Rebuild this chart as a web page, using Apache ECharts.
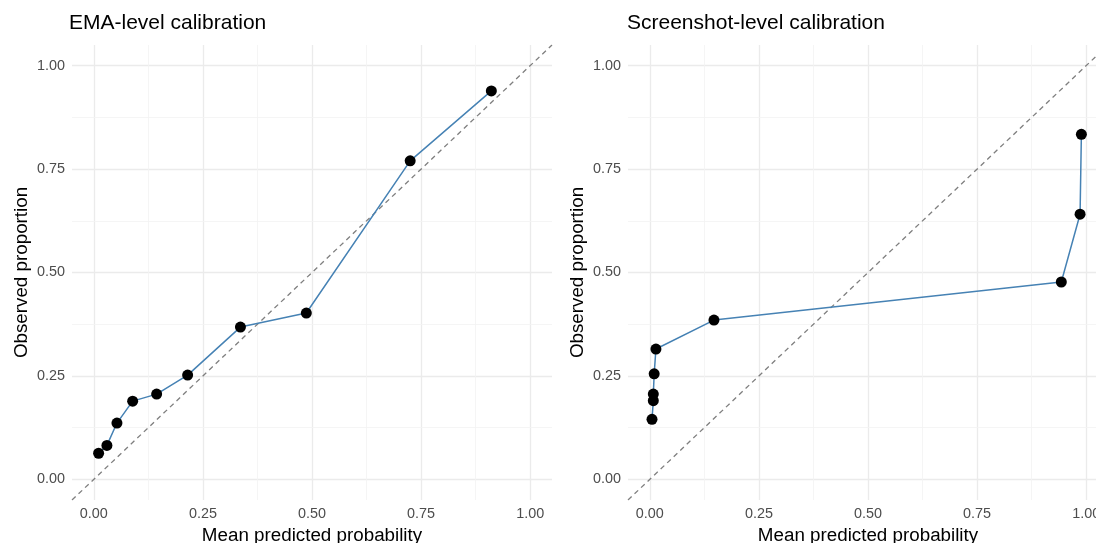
<!DOCTYPE html>
<html>
<head>
<meta charset="utf-8">
<script src="https://cdn.jsdelivr.net/npm/echarts@6/dist/echarts.min.js"></script>
<style>
html,body{margin:0;padding:0;background:#fff;}
#chart{width:1096px;height:543px;}
</style>
</head>
<body>
<div id="chart"></div>
<script>
// Data
const panelTitles = ['EMA-level calibration', 'Screenshot-level calibration'];
const xAxisTitle = 'Mean predicted probability';
const yAxisTitle = 'Observed proportion';
const tickValues = [0, 0.25, 0.5, 0.75, 1];
const minorValues = [0.125, 0.375, 0.625, 0.875];
const emaX = [0.011, 0.030, 0.053, 0.089, 0.144, 0.215, 0.336, 0.487, 0.725, 0.911];
const emaY = [0.063, 0.082, 0.136, 0.189, 0.206, 0.252, 0.368, 0.402, 0.770, 0.939];
const shotX = [0.005, 0.008, 0.008, 0.010, 0.014, 0.147, 0.943, 0.986, 0.989];
const shotY = [0.145, 0.190, 0.206, 0.255, 0.315, 0.385, 0.477, 0.641, 0.834];

const LO = -0.05, HI = 1.05;
const FONT = '"Liberation Sans", Arial, sans-serif';

function gridLines() {
  const d = [];
  const maj = {color: '#EBEBEB', width: 1.3, type: 'solid'};
  const min = {color: '#F3F3F3', width: 0.8, type: 'solid'};
  tickValues.forEach(v => {
    d.push([{coord: [LO, v], lineStyle: maj}, {coord: [HI, v]}]);
    d.push([{coord: [v, LO], lineStyle: maj}, {coord: [v, HI]}]);
  });
  minorValues.forEach(v => {
    d.push([{coord: [LO, v], lineStyle: min}, {coord: [HI, v]}]);
    d.push([{coord: [v, LO], lineStyle: min}, {coord: [v, HI]}]);
  });
  return d;
}

function zip(xs, ys) { return xs.map((x, i) => [x, ys[i]]); }

const grids = [
  {left: 72, top: 45, width: 480, height: 455, outerBoundsMode: 'none', containLabel: false},
  {left: 628, top: 45, width: 480, height: 455, outerBoundsMode: 'none', containLabel: false}
];

const xAxes = [0, 1].map(i => ({
  type: 'value', gridIndex: i, min: LO, max: HI,
  axisLine: {show: false}, axisTick: {show: false}, splitLine: {show: false},
  axisLabel: {customValues: tickValues, formatter: v => v.toFixed(2), color: '#4D4D4D',
              fontSize: 14.4, fontFamily: FONT, margin: 7},
  name: xAxisTitle, nameLocation: 'middle', nameGap: 25,
  nameTextStyle: {color: '#000', fontSize: 18.8, fontFamily: FONT}
}));
const yAxes = [0, 1].map(i => ({
  type: 'value', gridIndex: i, min: LO, max: HI,
  axisLine: {show: false}, axisTick: {show: false}, splitLine: {show: false},
  axisLabel: {customValues: tickValues, formatter: v => v.toFixed(2), color: '#4D4D4D',
              fontSize: 14.4, fontFamily: FONT, margin: 7},
  name: yAxisTitle, nameLocation: 'middle', nameGap: 41,
  nameTextStyle: {color: '#000', fontSize: 18.8, fontFamily: FONT}
}));

const series = [];
[[emaX, emaY], [shotX, shotY]].forEach(([xs, ys], i) => {
  series.push({
    type: 'line', xAxisIndex: i, yAxisIndex: i, data: [[LO, LO]], showSymbol: false,
    lineStyle: {width: 0}, silent: true, z: 0,
    markLine: {silent: true, z: 0, symbol: ['none', 'none'], label: {show: false}, animation: false, data: gridLines()}
  });
  series.push({
    type: 'line', xAxisIndex: i, yAxisIndex: i, data: [[LO, LO], [HI, HI]], showSymbol: false,
    lineStyle: {color: '#7F7F7F', width: 1.3, type: [5, 4]}, silent: true, z: 2
  });
  series.push({
    type: 'line', xAxisIndex: i, yAxisIndex: i, data: zip(xs, ys),
    symbol: 'circle', symbolSize: 11, showSymbol: true,
    lineStyle: {color: '#4682B4', width: 1.5},
    itemStyle: {color: '#000'}, z: 3
  });
});

const chart = echarts.init(document.getElementById('chart'), null, {renderer: 'canvas'});
chart.setOption({
  animation: false,
  backgroundColor: '#fff',
  title: [
    {text: panelTitles[0], left: 64, top: 8, textStyle: {color: '#000', fontSize: 21, fontWeight: 'normal', fontFamily: FONT}},
    {text: panelTitles[1], left: 622, top: 8, textStyle: {color: '#000', fontSize: 21, fontWeight: 'normal', fontFamily: FONT}}
  ],
  grid: grids,
  xAxis: xAxes,
  yAxis: yAxes,
  series: series
});
</script>
</body>
</html>
